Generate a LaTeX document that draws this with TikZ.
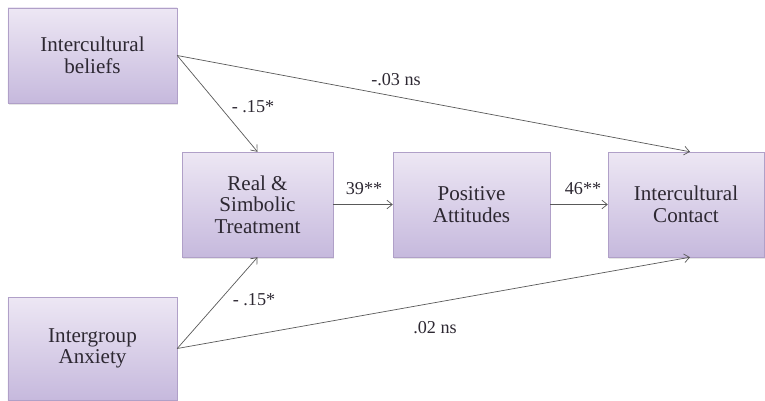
\documentclass[tikz,border=0pt]{standalone}
\usepackage{fontspec}
\setmainfont{Liberation Serif}
\usepackage{tikz}
\usetikzlibrary{arrows.meta,positioning,shadows}
\definecolor{lvTop}   {RGB}{237,231,244}
\definecolor{lvBottom}{RGB}{198,185,221}
\definecolor{lvEdge}  {RGB}{176,160,200}
\definecolor{lnGrey}  {RGB}{ 89, 89, 89}
\definecolor{txGrey}  {RGB}{ 45, 40, 50}

\begin{document}
\begin{tikzpicture}[
  every node/.style={text=txGrey},
  var/.style={draw=lvEdge,top color=lvTop,bottom color=lvBottom,
              align=center,inner sep=0pt,
              font=\fontsize{18}{18.5}\selectfont,
              drop shadow={opacity=0.2,shadow xshift=0.04cm,shadow yshift=-0.05cm}},
  coef/.style={font=\fontsize{15.5}{16}\selectfont,inner sep=1pt},
  path/.style={draw=lnGrey,line width=0.6pt,-{Straight Barb[length=1.6mm,width=2.6mm]}}
]
\useasboundingbox (0,0) rectangle (22.95,12);
% Predictors
\node[var,minimum width=5.07cm,minimum height=2.85cm] (IB) at (2.775,10.335) {Intercultural\\beliefs};
\node[var,minimum width=5.07cm,minimum height=3.09cm] (IA) at (2.775,1.545) {Intergroup\\Anxiety};
% Chain of mediators
\node[var,minimum width=4.53cm,minimum height=3.15cm] (RST) at (7.725,5.865) {Real \&\\Simbolic\\Treatment};
\node[var,minimum width=4.71cm,minimum height=3.15cm] (PA)  at (14.145,5.865) {Positive\\Attitudes};
\node[var,minimum width=4.68cm,minimum height=3.15cm] (IC)  at (20.58,5.865) {Intercultural\\Contact};
% Paths
\draw[path] (IB.east) -- (RST.north);
\draw[path] (IB.east) -- ([xshift=0.12cm]IC.north);
\draw[path] (IA.east) -- (RST.south);
\draw[path] (IA.east) -- ([xshift=0.12cm]IC.south);
\draw[path] (RST.east) -- (PA.west);
\draw[path] (PA.east) -- (IC.west);
% Coefficients
\node[coef] (c1) at (7.59,8.79)  {- .15*};
\node[coef] (c2) at (11.88,9.6)  {-.03 ns};
\node[coef] (c3) at (7.62,3.0)   {- .15*};
\node[coef] (c4) at (13.05,2.16) {.02 ns};
\node[coef] (c5) at (10.92,6.33) {39**};
\node[coef] (c6) at (17.49,6.33) {46**};
\end{tikzpicture}
\end{document}
